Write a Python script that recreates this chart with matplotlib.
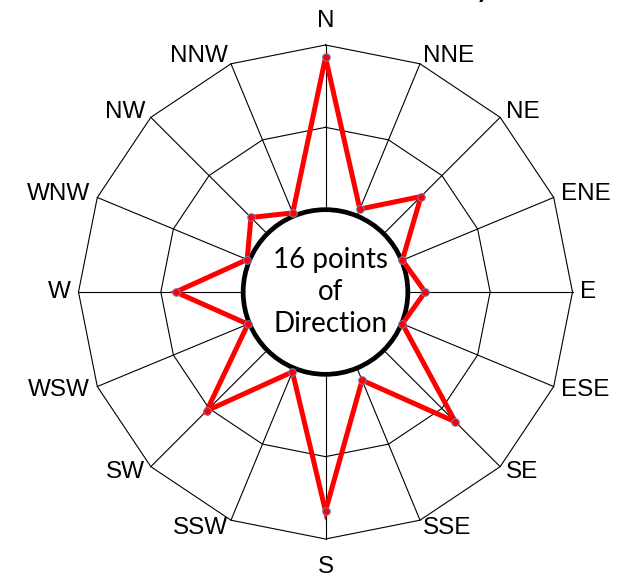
import matplotlib
matplotlib.use('Agg')
import matplotlib.pyplot as plt
from matplotlib.patches import Circle
import numpy as np

# 16 compass points, clockwise from north
directions = ['N', 'NNE', 'NE', 'ENE', 'E', 'ESE', 'SE', 'SSE',
              'S', 'SSW', 'SW', 'WSW', 'W', 'WNW', 'NW', 'NNW']
values = [18.5, 0.9, 6.4, 0.1, 2.1, 0.1, 12.3, 1.6,
          16.6, 0.5, 10.4, 0.2, 8.2, 0.3, 2.8, 0.4]
ring_values = [0, 10, 20]
r_min, r_max = -10, 20
title = 'Wind Direction History'
centre_text = '16 points\nof\nDirection'

W, H, dpi = 621, 577, 100
cx, cy, R_px = 325.5, 292, 247      # chart centre / outer radius in pixels
scale = R_px / (r_max - r_min)

fig = plt.figure(figsize=(W / dpi, H / dpi), dpi=dpi)
ax = fig.add_axes([0, 0, 1, 1])
ax.set_xlim(-cx / scale, (W - cx) / scale)
ax.set_ylim(-(H - cy) / scale, cy / scale)
ax.axis('off')

theta = np.deg2rad(np.arange(len(directions)) * 360.0 / len(directions))
sx, sy = np.sin(theta), np.cos(theta)
R = r_max - r_min

# polygon rings and spokes
for rv in ring_values:
    r = rv - r_min
    ax.plot(np.append(r * sx, r * sx[0]), np.append(r * sy, r * sy[0]),
            color='black', lw=0.8, zorder=1, solid_joinstyle='miter')
for x, y in zip(sx, sy):
    ax.plot([0, R * x], [0, R * y], color='black', lw=0.8, zorder=1)

# white hub over the zero ring
ax.add_patch(Circle((0, 0), 0 - r_min, facecolor='white', edgecolor='black',
                    lw=3.4, zorder=2))
ax.text(0.65, 0.0, centre_text, ha='center', va='center', fontsize=20,
        family='Lato', linespacing=1.28, zorder=5)

# data polygon
rv = np.array(values) - r_min
px, py = rv * sx, rv * sy
ax.plot(np.append(px, px[0]), np.append(py, py[0]), color='#ff0000', lw=3.6,
        zorder=3, solid_joinstyle='miter')
ax.plot(px, py, 'o', ms=5.5, mfc='#ff0000', mec='#5b8bd0', mew=0.7, zorder=4)

# direction labels
pad = 8 / scale
for name, x, y in zip(directions, sx, sy):
    if abs(x) < 1e-6:
        off = (13 if y > 0 else 17) / scale
        ax.text(0, y * (R + off), name, ha='center',
                va='bottom' if y > 0 else 'top', fontsize=17.5,
                family='Liberation Sans')
        continue
    ax.text(x * (R + pad), y * (R + pad), name,
            ha='left' if x > 0 else 'right', va='center', fontsize=17.5,
            family='Liberation Sans')

# chart title sits mostly above the top edge
fig.text(493 / W, 1 + 4 / H, title, ha='right', va='baseline', fontsize=26,
         family='Lato')

fig.savefig('out.png', dpi=dpi)
